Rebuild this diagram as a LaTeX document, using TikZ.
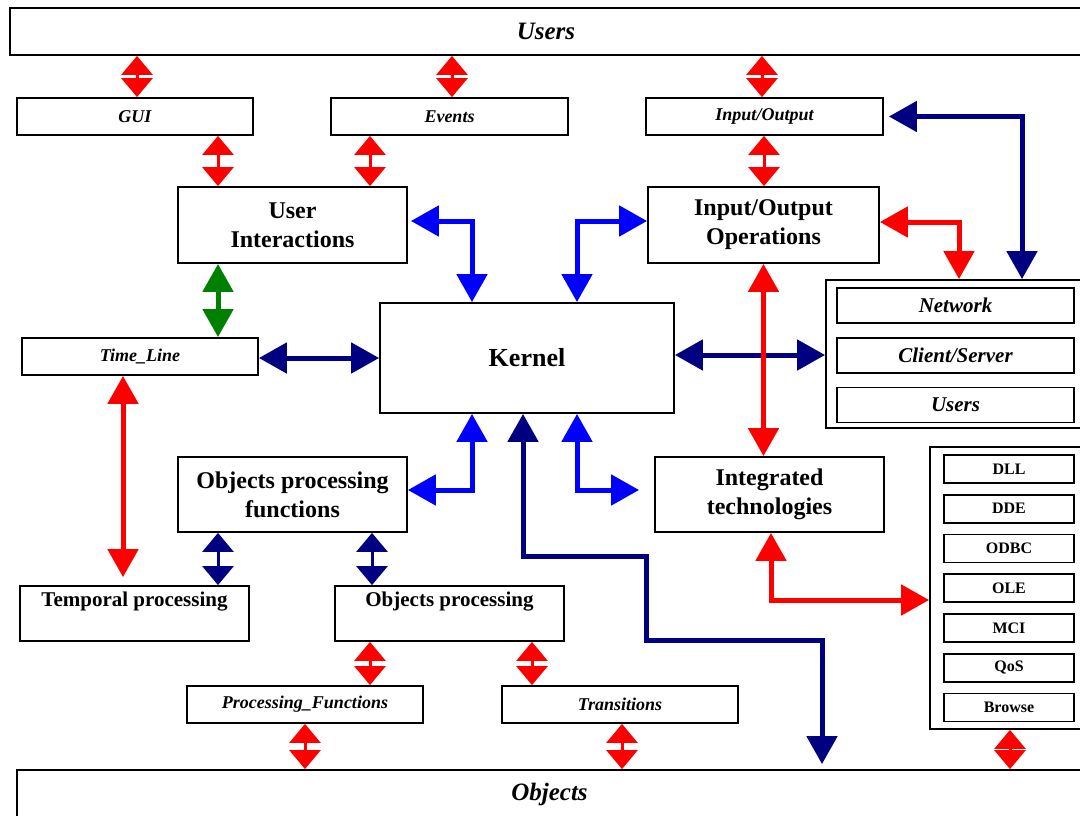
\documentclass[tikz,border=0pt]{standalone}
\usepackage{fontspec}
\setmainfont{Liberation Serif}
\usepackage{xcolor}
\usetikzlibrary{arrows.meta,positioning,calc}

\definecolor{navy}{RGB}{0,0,128}
\definecolor{darkgreen}{RGB}{0,128,0}

\begin{document}
\begin{tikzpicture}[
    x=1pt, y=-1pt,
    % plain framed boxes
    box/.style={draw, line width=1.8pt, inner sep=0pt, align=center},
    big/.style={font=\fontsize{24}{29}\selectfont\bfseries},
    mid/.style={font=\fontsize{21}{29}\selectfont\bfseries},
    small/.style={font=\fontsize{18}{21}\selectfont\bfseries\itshape},
    tech/.style={font=\fontsize{16}{19}\selectfont\bfseries},
    % short link, two heads almost touching
    link/.style={line width=3pt, {Triangle[length=19pt,width=31pt]}-{Triangle[length=19pt,width=31pt]}},
    % long link
    wire/.style={line width=5pt, {Triangle[length=28pt,width=30pt]}-{Triangle[length=28pt,width=30pt]}},
  ]
  \useasboundingbox (0,0) rectangle (1080,816);

  % top and bottom bars
  \node[box, minimum width=1072, minimum height=47, font=\fontsize{25}{30}\selectfont\bfseries\itshape] (users) at (546,31.5) {Users};
  \node[box, minimum width=1065, minimum height=48, font=\fontsize{25}{30}\selectfont\bfseries\itshape] (objects) at (549.5,794) {Objects};

  % first row
  \node[box, small, minimum width=236, minimum height=37] (gui) at (135,116.5) {GUI};
  \node[box, small, minimum width=237, minimum height=37] (events) at (449.5,116.5) {Events};
  \node[box, small, minimum width=237, minimum height=37] (io) at (764.5,116.5) {Input/Output};

  \node[box, big, minimum width=229, minimum height=76] (ui) at (292.5,225) {User\\Interactions};
  \node[box, big, minimum width=231, minimum height=76] (ioops) at (763.5,225) {Input/Output\\Operations};

  % middle
  \node[box, font=\fontsize{26}{30}\selectfont\bfseries, minimum width=294, minimum height=110] (kernel) at (527,358) {Kernel};
  \node[box, small, minimum width=236, minimum height=37] (timeline) at (140,356.5) {Time\_Line};

  \node[box, minimum width=256, minimum height=148] (netbox) at (954,354) {};
  \node[box, font=\fontsize{21}{25}\selectfont\bfseries\itshape, minimum width=237, minimum height=35] (network) at (955.5,305.5) {Network};
  \node[box, font=\fontsize{21}{25}\selectfont\bfseries\itshape, minimum width=237, minimum height=35] (cs) at (955.5,355.5) {Client/Server};
  \node[box, font=\fontsize{21}{25}\selectfont\bfseries\itshape, minimum width=237, minimum height=35] (netusers) at (955.5,405) {Users};

  % technologies column
  \node[box, minimum width=152, minimum height=282] (techbox) at (1006,588) {};
  \foreach \t [count=\i from 0] in {DLL,DDE,ODBC,OLE,MCI,QoS,Browse}
    \node[box, tech, minimum width=130, minimum height=28] (t\i) at (1009,{469+39.75*\i}) {\t};

  % lower part
  \node[box, big, minimum width=229, minimum height=75] (opf) at (292.5,494.5) {Objects processing\\functions};
  \node[box, big, minimum width=229, minimum height=75] (integ) at (769.5,494.5) {Integrated\\technologies};
  \node[box, mid, minimum width=229, minimum height=55] (temporal) at (134.5,613.5) {Temporal processing\\\mbox{}};
  \node[box, mid, minimum width=229, minimum height=55] (objproc) at (449.5,613.5) {Objects processing\\\mbox{}};
  \node[box, small, minimum width=236, minimum height=37] (procfun) at (305,704.5) {Processing\_Functions};
  \node[box, small, minimum width=236, minimum height=37] (trans) at (620,704.5) {Transitions};

  % short red links
  \foreach \x/\src/\dst in {137/users/gui, 452/users/events, 762/users/io, 218/gui/ui, 370/events/ui,
      764/io/ioops, 370/objproc/procfun, 532/objproc/trans, 305/procfun/objects, 622/trans/objects,
      1010/techbox/objects}
    \draw[link, red] (\src.south -| \x,0) -- (\dst.north -| \x,0);
  % short navy links
  \foreach \x/\dst in {218/temporal, 372/objproc}
    \draw[link, navy] (opf.south -| \x,0) -- (\dst.north -| \x,0);

  % long links
  \draw[wire, darkgreen] (ui.south -| 218,0) -- (timeline.north -| 218,0);
  \draw[wire, navy] (timeline.east |- 0,358) -- (kernel.west |- 0,358);
  \draw[wire, navy] (kernel.east |- 0,355) -- (netbox.west |- 0,355);
  \draw[wire, navy, shorten <=5pt] (io.east) -| (netbox.north -| 1022,0);
  \draw[wire, red] (ioops.east |- 0,222) -| (netbox.north -| 959,0);
  \draw[wire, red] (ioops.south) -- (ioops.south |- integ.north);
  \draw[wire, red, shorten >=8pt] (timeline.south -| 123,0) -- (temporal.north -| 123,0);
  \draw[wire, red] (integ.south -| 771,0) |- (techbox.west |- 0,600);

  % kernel links
  \draw[wire, blue, shorten <=3pt] (ui.east |- 0,221) -| (kernel.north -| 472,0);
  \draw[wire, blue] (kernel.north -| 577,0) |- (ioops.west |- 0,221);
  \draw[wire, blue] (opf.east |- 0,490) -| (kernel.south -| 472,0);
  \draw[wire, blue, shorten >=15pt] (kernel.south -| 577,0) |- (integ.west |- 0,490);
  \draw[wire, navy, shorten >=5pt] (kernel.south -| 523,0) |- (646,556) |- (822,640) -- (objects.north -| 822,0);
\end{tikzpicture}
\end{document}
